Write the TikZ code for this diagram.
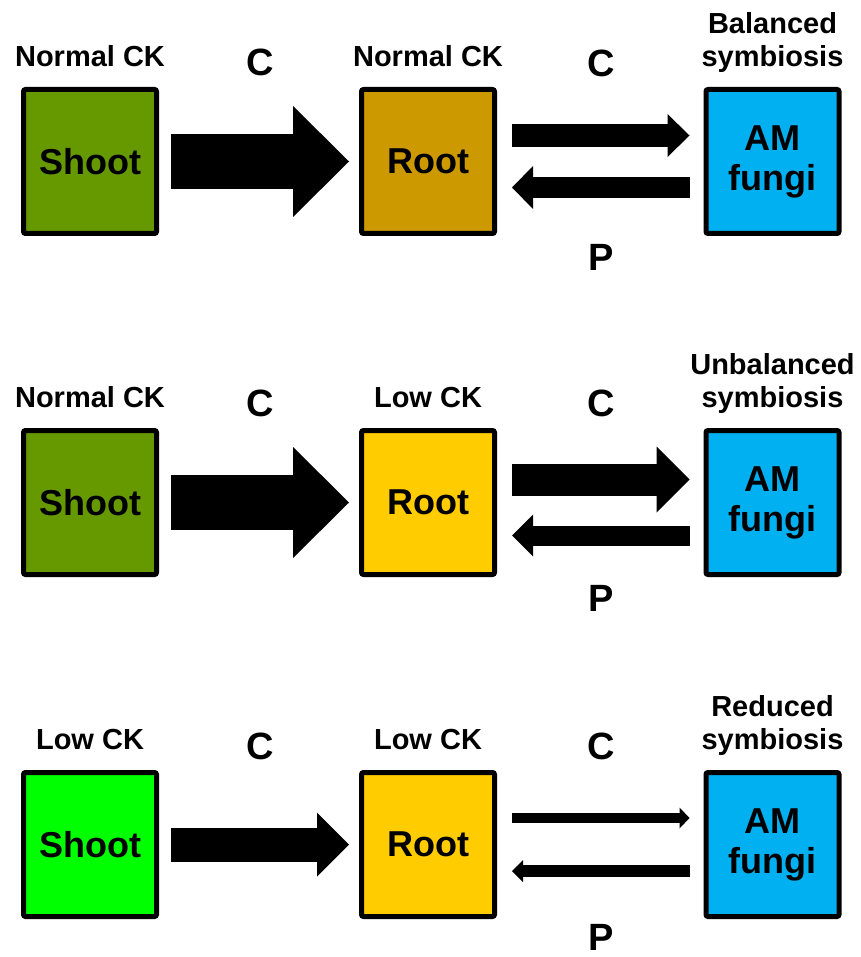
\documentclass[tikz,border=0pt]{standalone}
\usepackage{fontspec}
\setmainfont{Liberation Sans}
\usetikzlibrary{arrows.meta,positioning}
\definecolor{shootolive}{HTML}{669900}
\definecolor{shootlime}{HTML}{00FF00}
\definecolor{rootochre}{HTML}{CC9900}
\definecolor{rootyellow}{HTML}{FFCC00}
\definecolor{fungiblue}{HTML}{00B0F0}
\tikzstyle{organ} = [draw, line width=5pt, rounded corners=2pt, rectangle,
    minimum width=133pt, minimum height=144pt, inner sep=0pt, align=center,
    font=\fontsize{36}{40}\selectfont\bfseries]
\tikzstyle{status} = [anchor=south, inner sep=0pt, align=center,
    font=\fontsize{29}{33}\selectfont\bfseries]
\tikzstyle{flowlabel} = [inner sep=0pt, font=\fontsize{38}{38}\selectfont\bfseries]
\tikzset{flow/.style args={#1/#2/#3}{draw, line width=#1,
    -{Triangle[length=#2, width=#3, line width=0pt]}}}

\begin{document}
\begin{tikzpicture}[x=1pt, y=1pt]
      \useasboundingbox (0,0) rectangle (860,-957);
      % first row: normal CK in shoot and root
      \node[organ, fill=shootolive] at (90,-161.5) (shoot1) {Shoot};
      \node[organ, fill=rootochre, right of=shoot1, node distance=338pt] (root1) {Root};
      \node[organ, fill=fungiblue, right of=root1, node distance=344.5pt] (fungi1) {AM\\fungi};
      \node[status, above=20pt of shoot1] (ck_shoot1) {Normal CK};
      \node[status, above=20pt of root1] (ck_root1) {Normal CK};
      \node[status, above=14pt of fungi1] (sym1) {Balanced\\symbiosis};

      \draw[flow=55pt/56pt/111pt] ([xshift=12pt]shoot1.east) -- ([xshift=-10pt]root1.west)
          node[flowlabel, midway, yshift=99pt] (c_sr1) {C};
      \draw[flow=23pt/22pt/43pt] ([shift={(15pt,26pt)}]root1.east) -- ([shift={(-14pt,26pt)}]fungi1.west)
          node[flowlabel, midway, yshift=72.5pt] (c_rf1) {C};
      \draw[flow=21pt/21pt/43pt] ([shift={(-14pt,-26pt)}]fungi1.west) -- ([shift={(15pt,-26pt)}]root1.east)
          node[flowlabel, midway, yshift=-69.5pt] (p_fr1) {P};

      % second row: low CK in root
      \node[organ, fill=shootolive] at (90,-502.5) (shoot2) {Shoot};
      \node[organ, fill=rootyellow, right of=shoot2, node distance=338pt] (root2) {Root};
      \node[organ, fill=fungiblue, right of=root2, node distance=344.5pt] (fungi2) {AM\\fungi};
      \node[status, above=20pt of shoot2] (ck_shoot2) {Normal CK};
      \node[status, above=20pt of root2] (ck_root2) {Low CK};
      \node[status, above=14pt of fungi2] (sym2) {Unbalanced\\symbiosis};

      \draw[flow=55pt/56pt/111pt] ([xshift=12pt]shoot2.east) -- ([xshift=-10pt]root2.west)
          node[flowlabel, midway, yshift=99pt] (c_sr2) {C};
      \draw[flow=32pt/33pt/66pt] ([shift={(15pt,23pt)}]root2.east) -- ([shift={(-14pt,23pt)}]fungi2.west)
          node[flowlabel, midway, yshift=76.5pt] (c_rf2) {C};
      \draw[flow=20pt/21pt/42pt] ([shift={(-14pt,-33pt)}]fungi2.west) -- ([shift={(15pt,-33pt)}]root2.east)
          node[flowlabel, midway, yshift=-62.5pt] (p_fr2) {P};

      % third row: low CK in shoot and root
      \node[organ, fill=shootlime] at (90,-844.5) (shoot3) {Shoot};
      \node[organ, fill=rootyellow, right of=shoot3, node distance=338pt] (root3) {Root};
      \node[organ, fill=fungiblue, right of=root3, node distance=344.5pt] (fungi3) {AM\\fungi};
      \node[status, above=20pt of shoot3] (ck_shoot3) {Low CK};
      \node[status, above=20pt of root3] (ck_root3) {Low CK};
      \node[status, above=14pt of fungi3] (sym3) {Reduced\\symbiosis};

      \draw[flow=34pt/32pt/64pt] ([xshift=12pt]shoot3.east) -- ([xshift=-10pt]root3.west)
          node[flowlabel, midway, yshift=98.5pt] (c_sr3) {C};
      \draw[flow=10pt/10pt/21pt] ([shift={(15pt,26.5pt)}]root3.east) -- ([shift={(-14pt,26.5pt)}]fungi3.west)
          node[flowlabel, midway, yshift=72pt] (c_rf3) {C};
      \draw[flow=12pt/11pt/22pt] ([shift={(-14pt,-26.5pt)}]fungi3.west) -- ([shift={(15pt,-26.5pt)}]root3.east)
          node[flowlabel, midway, yshift=-66.5pt] (p_fr3) {P};
\end{tikzpicture}
\end{document}
